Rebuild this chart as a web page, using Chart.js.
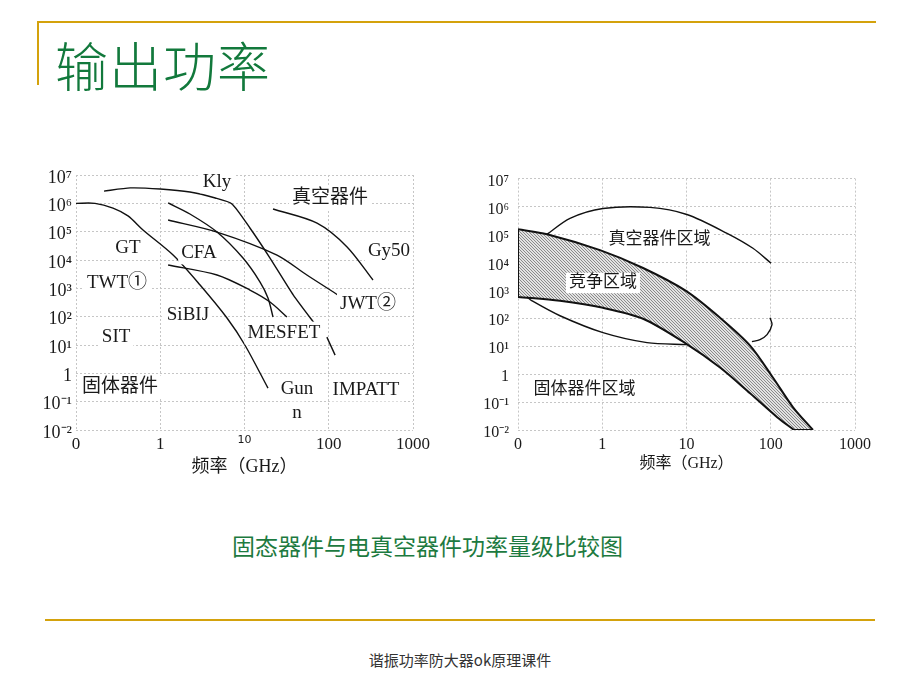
<!DOCTYPE html>
<html>
<head>
<meta charset="utf-8">
<script src="https://cdn.jsdelivr.net/npm/chart.js@4.4.0/dist/chart.umd.min.js"></script>
<style>
  body { margin: 0; background: #fff; }
  #page { position: relative; width: 920px; height: 690px; overflow: hidden; background: #fff; }
  .rule { position: absolute; background: #d4a20c; }
  .box { position: absolute; }
  #title { position: absolute; left: 55px; top: 38px; font: 300 53px "Noto Sans CJK SC"; color: #12793c; line-height: 1; letter-spacing: 1px; }
  #caption { position: absolute; left: 232px; top: 534px; font: 400 23px "Noto Sans CJK SC"; color: #1d7a40; line-height: 1; }
  #footer { position: absolute; left: 0; width: 920px; top: 652px; text-align: center; font: 400 15px "Noto Sans CJK SC"; color: #333; line-height: 1; }
</style>
</head>
<body>
<div id="page">
  <div class="rule" style="left:38px;top:21px;width:838px;height:2px"></div>
  <div class="rule" style="left:37px;top:21px;width:2px;height:64px"></div>
  <div id="title">输出功率</div>
  <div class="box" style="left:20px;top:160px"><canvas id="leftChart" width="420" height="320"></canvas></div>
  <div class="box" style="left:460px;top:160px"><canvas id="rightChart" width="420" height="320"></canvas></div>
  <div id="caption">固态器件与电真空器件功率量级比较图</div>
  <div class="rule" style="left:45px;top:619px;width:830px;height:2px"></div>
  <div id="footer">谐振功率防大器ok原理课件</div>
</div>
<script>
// axes (GHz / W), "0" stands for the left end of the log axis
const xTicks = [0.1, 1, 10, 100, 1000];
const xTickLabels = ['0', '1', '10', '100', '1000'];
const yTicks = [0.01, 0.1, 1, 10, 100, 1e3, 1e4, 1e5, 1e6, 1e7];
const yTickLabels = ['10⁻²', '10⁻¹', '1', '10¹', '10²', '10³', '10⁴', '10⁵', '10⁶', '10⁷'];
const xTitle = '频率（GHz）';

// left chart curves
const klyFreq = [0.215, 0.44, 1.0, 2.25, 4.5, 7.1, 11.6, 20, 38, 73, 84, 95, 119];
const klyPower = [2.7e6, 3.5e6, 3.2e6, 2.5e6, 1.54e6, 9.5e5, 1.35e5, 1.2e4, 580, 43, null, 19, 4.4];
const gtFreq = [0.1, 0.168, 0.275, 0.414, 0.624, 1.42, 2.97, 6.2, 10.1, 19];
const gtPower = [1.0e6, 1.0e6, 6.8e5, 3.6e5, 1.15e5, 1.5e4, 1.31e3, 89.5, 10, 0.30];
const cfa1Freq = [1.24, 2.25, 4.72, 9.6, 15.3, 19, 21.8];
const cfa1Power = [1.03e6, 4.2e5, 9.7e4, 1.17e4, 1.67e3, 455, 97];
const cfa2Freq = [1.24, 4.72, 24.3, 55, 129];
const cfa2Power = [2.58e5, 9.7e4, 1.5e4, 2.95e3, 580];
const cfa3Freq = [1.24, 4.72, 11.6, 20.1, 31.9];
const cfa3Power = [6.65e3, 2.95e3, 873, 329, 97];
const gy50Freq = [21.8, 72.6, 165, 335];
const gy50Power = [6.3e5, 2.0e5, 2.9e4, 1.97e3];

const leftLabels = [
  { text: 'Kly', f: 4.72, p: 5.7e6 },
  { text: '真空器件', f: 103.5, p: 1.54e6 },
  { text: 'Gy50', f: 519, p: 2.07e4 },
  { text: 'GT', f: 0.414, p: 2.65e4 },
  { text: 'CFA', f: 2.88, p: 1.77e4 },
  { text: 'TWT①', f: 0.307, p: 1.54e3 },
  { text: 'JWT②', f: 292, p: 280 },
  { text: 'SiBIJ', f: 2.13, p: 114 },
  { text: 'SIT', f: 0.299, p: 19.1 },
  { text: 'MESFET', f: 29.4, p: 26.5 },
  { text: '固体器件', f: 0.333, p: 0.329 },
  { text: 'Gun', f: 42, p: 0.279 },
  { text: 'n', f: 42, p: 0.0397 },
  { text: 'IMPATT', f: 277, p: 0.258 }
];

// right chart: competition band and region outlines
const bandTopFreq = [0.1, 0.221, 0.94, 3.05, 9.86, 25, 56.8, 106, 184, 317];
const bandTopPower = [1.53e5, 1.02e5, 2.74e4, 6.3e3, 953, 104, 10.5, 0.76, 0.065, 0.01];
const bandBottomFreq = [0.1, 0.315, 1.02, 3.05, 9.86, 25, 56.8, 119, 189];
const bandBottomPower = [582, 420, 237, 96, 12.4, 1.73, 0.206, 0.0288, 0.01];
const solidEdgeFreq = [0.128, 0.147, 0.315, 1.02, 3.4, 10.1];
const solidEdgePower = [582, 420, 123, 30.5, 13.4, 11.4];
const vacuumEdgeFreq = [0.221, 0.414, 1.02, 3.69, 10.1, 30.3, 61.5, 100.7];
const vacuumEdgePower = [1.02e5, 3.8e5, 8.55e5, 9.3e5, 5.2e5, 1.1e5, 3.2e4, 9.4e3];
const bracketFreq = [98, 103.5, 90.4, 74.5, 59.8];
const bracketPower = [104, 58.7, 25.9, 17.2, 14.6];

const rightLabels = [
  { text: '真空器件区域', f: 4.79, p: 6.7e4 },
  { text: '竞争区域', f: 1.02, p: 1.83e3 },
  { text: '固体器件区域', f: 0.615, p: 0.286 }
];

const SERIF = '"Liberation Serif", "Noto Sans CJK SC"';

function pts(fs, ps) {
  return fs.map((f, i) => ({ x: f, y: ps[i] }));
}

function curve(fs, ps, extra) {
  return Object.assign({
    data: pts(fs, ps),
    showLine: true,
    borderColor: '#111',
    borderWidth: 1.4,
    pointRadius: 0,
    tension: 0.3,
    spanGaps: false,
    fill: false
  }, extra || {});
}

function hatchPattern() {
  const c = document.createElement('canvas');
  c.width = 3; c.height = 3;
  const g = c.getContext('2d');
  g.fillStyle = '#e2e2e2';
  g.fillRect(0, 0, 3, 3);
  g.fillStyle = '#8a8a8a';
  // one-pixel diagonal, top-left to bottom-right
  for (let i = 0; i < 3; i++) g.fillRect(i, i, 1, 1);
  return g.createPattern(c, 'repeat');
}

// text labels with white box, placed in data units
function labelPlugin(items, size) {
  return {
    id: 'areaLabels',
    afterDatasetsDraw(chart) {
      const { ctx } = chart;
      const xs = chart.scales.x, ys = chart.scales.y;
      ctx.save();
      ctx.font = size + 'px ' + SERIF;
      ctx.textAlign = 'center';
      ctx.textBaseline = 'middle';
      items.forEach(it => {
        const px = xs.getPixelForValue(it.f);
        const py = ys.getPixelForValue(it.p);
        const w = ctx.measureText(it.text).width;
        ctx.fillStyle = '#fff';
        ctx.fillRect(px - w / 2 - 3, py - size * 0.6, w + 6, size * 1.2);
        ctx.fillStyle = '#1a1a1a';
        ctx.fillText(it.text, px, py);
      });
      ctx.restore();
    }
  };
}

function makeOptions(cfg) {
  const grid = { color: '#c6c6c6', lineWidth: 1, drawTicks: false };
  const border = { display: false, dash: [2, 2] };
  return {
    responsive: false,
    animation: false,
    devicePixelRatio: 1,
    layout: { padding: cfg.padding },
    plugins: { legend: { display: false }, tooltip: { enabled: false } },
    scales: {
      x: {
        type: 'logarithmic',
        min: 0.1,
        max: 1000,
        grid: grid,
        border: border,
        afterBuildTicks: s => { s.ticks = xTicks.map(v => ({ value: v })); },
        afterFit: s => { s.height = 50; },
        ticks: {
          autoSkip: false,
          maxRotation: 0,
          padding: cfg.xPad,
          color: '#1a1a1a',
          font: cfg.xFont,
          callback: (v, i) => xTickLabels[i]
        },
        title: {
          display: true,
          text: xTitle,
          color: '#1a1a1a',
          font: { family: SERIF, size: cfg.titleSize },
          padding: { top: 0, bottom: cfg.titlePad }
        }
      },
      y: {
        type: 'logarithmic',
        min: 0.01,
        max: 1e7,
        grid: grid,
        border: border,
        afterBuildTicks: s => { s.ticks = yTicks.map(v => ({ value: v })); },
        afterFit: s => { s.width = cfg.yWidth; },
        ticks: {
          autoSkip: false,
          padding: cfg.yPad,
          labelOffset: 3,
          color: '#1a1a1a',
          font: { family: SERIF, size: cfg.yFontSize },
          callback: (v, i) => yTickLabels[i]
        }
      }
    }
  };
}

// Left chart: device curves
new Chart(document.getElementById('leftChart'), {
  type: 'scatter',
  data: {
    datasets: [
      curve(klyFreq, klyPower, { tension: 0.2 }),
      curve(gtFreq, gtPower),
      curve(cfa1Freq, cfa1Power),
      curve(cfa2Freq, cfa2Power),
      curve(cfa3Freq, cfa3Power),
      curve(gy50Freq, gy50Power)
    ]
  },
  options: makeOptions({
    padding: { left: 4, right: 27, top: 15, bottom: 0 },
    yWidth: 52,
    yPad: 4,
    yFontSize: 18,
    xPad: 4,
    xFont: c => (c.tick && c.tick.value === 10)
      ? { family: '"DejaVu Sans"', size: 11 }
      : { family: SERIF, size: 17 },
    titleSize: 18,
    titlePad: 2
  }),
  plugins: [labelPlugin(leftLabels, 19)]
});

// Right chart: regions
const hatch = hatchPattern();
const bandShape = pts(bandTopFreq, bandTopPower)
  .concat(pts(bandBottomFreq, bandBottomPower).reverse());

new Chart(document.getElementById('rightChart'), {
  type: 'scatter',
  data: {
    datasets: [
      curve(bandTopFreq, bandTopPower, { borderWidth: 2 }),
      curve(bandBottomFreq, bandBottomPower, { borderWidth: 2 }),
      {
        data: [
          { x: bandTopFreq[0], y: bandTopPower[0] },
          { x: bandBottomFreq[0], y: bandBottomPower[0] },
          { x: bandTopFreq[0], y: null },
          { x: bandBottomFreq[bandBottomFreq.length - 1], y: bandBottomPower[bandBottomPower.length - 1] },
          { x: bandTopFreq[bandTopFreq.length - 1], y: bandTopPower[bandTopPower.length - 1] }
        ],
        showLine: true, borderColor: '#111', borderWidth: 2, pointRadius: 0, tension: 0, spanGaps: false
      },
      curve(solidEdgeFreq, solidEdgePower),
      curve(vacuumEdgeFreq, vacuumEdgePower),
      curve(bracketFreq, bracketPower),
      {
        data: bandShape,
        showLine: true,
        borderWidth: 0,
        borderColor: 'rgba(0,0,0,0)',
        backgroundColor: hatch,
        pointRadius: 0,
        tension: 0,
        fill: 'shape'
      }
    ]
  },
  options: makeOptions({
    padding: { left: 4, right: 25, top: 17, bottom: 0 },
    yWidth: 54,
    yPad: 9,
    yFontSize: 16,
    xPad: 5,
    xFont: { family: SERIF, size: 16 },
    titleSize: 16,
    titlePad: 7
  }),
  plugins: [labelPlugin(rightLabels, 17)]
});
</script>
</body>
</html>
